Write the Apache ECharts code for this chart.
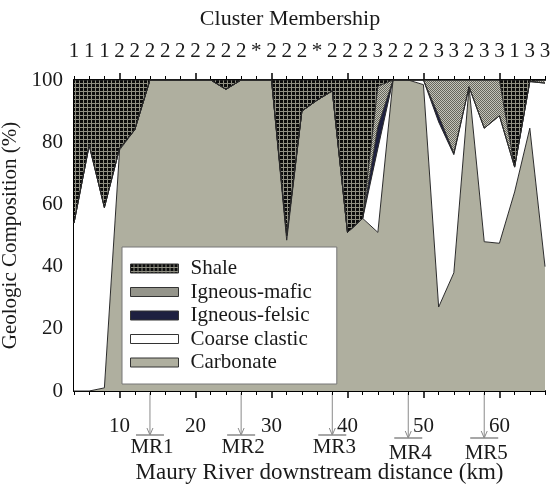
<!DOCTYPE html>
<html>
<head>
<meta charset="utf-8">
<script src="https://cdn.jsdelivr.net/npm/echarts@6/dist/echarts.min.js"></script>
<style>html,body{margin:0;padding:0;background:#fff;}#c{width:552px;height:495px;}</style>
</head>
<body>
<div id="c"></div>
<script>
// ---- data ----
const km = [4,6,8,10,12,14,16,18,20,22,24,26,28,30,32,34,36,38,40,42,44,46,48,50,52,54,56,58,60,62,64,66];
const clusters = ['1','1','1','2','2','2','2','2','2','2','2','2','*','2','2','2','*','2','2','2','3','2','2','2','3','3','2','3','3','1','3','3'];
const carbonate = [0,0,1,77.5,84,100,100,100,100,100,97,100,100,100,48.5,90,93.5,96.5,51,55.5,51,100,100,98.5,27,38,97.8,48,47.5,64,84.5,40];
const coarse    = [54,79,58,0.5,0,0,0,0,0,0,0,0,0,0,1.5,0,0,0,0,0,27,0,0,1.5,59.5,38,0,36.5,41,8,15,59];
const felsic    = [0,0,0,0,0,0,0,0,0,0,0,0,0,0,0,0,0,0,0,0,7,0,0,0,2,0.5,0,0,0,0,0,0];
const mafic     = [0,0,0,0,0,0,0,0,0,0,0,0,0,0,0,0,0,0,0,0,13,0,0,0,11.5,23.5,2.2,15.5,11.5,0,0,1];
const shale     = [46,21,41,22,16,0,0,0,0,0,3,0,0,0,50,10,6.5,3.5,49,44.5,2,0,0,0,0,0,0,0,0,28,0.5,0];
const majorTicks = [10,20,30,40,50,60];
const mrNames = ['MR1','MR2','MR3','MR4','MR5'];
const mrKm = [13.5,25.7,38.0,48.1,57.6];

// ---- patterns ----
function makePattern(w,h,draw){const c=document.createElement('canvas');c.width=w;c.height=h;draw(c.getContext('2d'));return c;}
const shalePat = makePattern(4,4,g=>{g.fillStyle='#0c0c0c';g.fillRect(0,0,4,4);g.fillStyle='#8f8f82';g.fillRect(3,0,1,4);g.fillRect(0,3,4,1);});
const maficPat = makePattern(2,2,g=>{g.fillStyle='#c4c4ba';g.fillRect(0,0,2,2);g.fillStyle='#66665c';g.fillRect(0,0,1,1);g.fillRect(1,1,1,1);});
const shaleFill = {image: shalePat, repeat: 'repeat'};
const maficFill = {image: maficPat, repeat: 'repeat'};

const FONT = 'Liberation Serif';
const FS = 21;
const TXT = '#1a1a1a';
const isMajor = (i) => majorTicks.indexOf(km[i]) >= 0;
// km -> fractional category position (categories are evenly spaced)
const kmToIdx = (k) => (k - km[0]) / (km[1] - km[0]);

function mkSeries(name, arr, fill, border){
  return {
    name, type:'line', stack:'total', data: arr.slice(),
    xAxisIndex:0, yAxisIndex:0,
    showSymbol:false, symbol:'none', smooth:false,
    lineStyle:{color:'#2a2a2a', width:1},
    areaStyle:{color: fill, opacity:1},
    itemStyle:{color: fill, borderColor: border, borderWidth:1},
    emphasis:{disabled:true}, animation:false
  };
}

const chart = echarts.init(document.getElementById('c'), null, {renderer:'canvas'});
const gridBox = {left:74, right:7, top:80, bottom:104, containLabel:false, outerBoundsMode:'none'};
const cats = km.map(String);
const baseX = {type:'category', data:cats, boundaryGap:false, splitLine:{show:false}};
const option = {
  animation:false,
  backgroundColor:'#fff',
  grid:[Object.assign({}, gridBox), Object.assign({}, gridBox)],
  legend:{
    orient:'vertical', left:122, top:247,
    data:['Shale','Igneous-mafic','Igneous-felsic','Coarse clastic','Carbonate'],
    icon:'rect', itemWidth:48, itemHeight:9, itemGap:2.5,
    backgroundColor:'#fff', borderColor:'#777', borderWidth:1,
    padding:[11,25,11,8],
    itemStyle:{borderColor:'#333', borderWidth:1},
    textStyle:{fontFamily:FONT, fontSize:FS, color:TXT, padding:[0,0,0,7]},
    selectedMode:false
  },
  xAxis:[
    Object.assign({}, baseX, {gridIndex:0, position:'bottom',
     axisLine:{show:true, lineStyle:{color:'#000', width:2}},
     axisTick:{show:true, interval:(i)=>isMajor(i), length:7, lineStyle:{color:'#000', width:1.5}},
     axisLabel:{show:true, interval:(i)=>isMajor(i), margin:25, fontFamily:FONT, fontSize:FS, color:TXT},
     name:'Maury River downstream distance (km)', nameLocation:'middle', nameGap:70,
     nameTextStyle:{fontFamily:FONT, fontSize:23, color:TXT, padding:[0,0,0,20]}}),
    Object.assign({}, baseX, {gridIndex:0, position:'top',
     axisLine:{show:true, lineStyle:{color:'#000', width:2}},
     axisTick:{show:true, interval:(i)=>isMajor(i), length:7, lineStyle:{color:'#000', width:1.5}},
     axisLabel:{show:true, interval:0, margin:18, fontFamily:FONT, fontSize:FS, color:TXT,
       formatter:(v,i)=>clusters[i]}}),
    Object.assign({}, baseX, {gridIndex:1, position:'bottom',
     axisLine:{show:false},
     axisTick:{show:true, interval:(i)=>!isMajor(i), length:4, lineStyle:{color:'#000', width:1}},
     axisLabel:{show:false}}),
    Object.assign({}, baseX, {gridIndex:1, position:'top',
     axisLine:{show:false},
     axisTick:{show:true, interval:(i)=>!isMajor(i), length:4, lineStyle:{color:'#000', width:1}},
     axisLabel:{show:false}})
  ],
  yAxis:[
    {gridIndex:0, type:'value', min:0, max:100, interval:20,
     axisLine:{show:true, lineStyle:{color:'#000', width:2}},
     axisTick:{show:false},
     axisLabel:{margin:11, fontFamily:FONT, fontSize:FS, color:TXT},
     splitLine:{show:false},
     name:'Geologic Composition (%)', nameLocation:'middle', nameGap:50,
     nameTextStyle:{fontFamily:FONT, fontSize:FS, color:TXT}},
    {gridIndex:1, type:'value', min:0, max:100, show:false}
  ],
  series:[
    mkSeries('Carbonate', carbonate, '#afaf9f', '#444'),
    mkSeries('Coarse clastic', coarse, '#ffffff', '#777'),
    mkSeries('Igneous-felsic', felsic, '#1e2040', '#222'),
    mkSeries('Igneous-mafic', mafic, maficFill, '#333'),
    mkSeries('Shale', shale, shaleFill, '#222')
  ]
};
chart.setOption(option);

// ---- annotations: title and MR arrows placed via the axis scales ----
const y0 = chart.convertToPixel({yAxisIndex:0}, 0);
const g = [];
g.push({type:'text', x:290, y:19, style:{text:'Cluster Membership', font:'22px "'+FONT+'"', fill:TXT, align:'center', verticalAlign:'middle'}});
mrKm.forEach((k,i)=>{
  const px = chart.convertToPixel({xAxisIndex:0}, kmToIdx(k));
  const dy = i >= 3 ? 3 : 0;
  const yb = y0 + 44 + dy;
  g.push({type:'line', shape:{x1:px, y1:y0+2, x2:px, y2:yb}, style:{stroke:'#8a8a8a', lineWidth:1}});
  g.push({type:'polyline', shape:{points:[[px-3,yb-7],[px,yb],[px+3,yb-7]]}, style:{stroke:'#8a8a8a', lineWidth:1, fill:null}});
  g.push({type:'line', shape:{x1:px-14, y1:yb, x2:px+14, y2:yb}, style:{stroke:'#8a8a8a', lineWidth:1.5}});
  g.push({type:'text', x:px+2, y:yb+12+dy, style:{text:mrNames[i], font:FS+'px "'+FONT+'"', fill:TXT, align:'center', verticalAlign:'middle'}});
});
chart.setOption({graphic:g});
</script>
</body>
</html>
